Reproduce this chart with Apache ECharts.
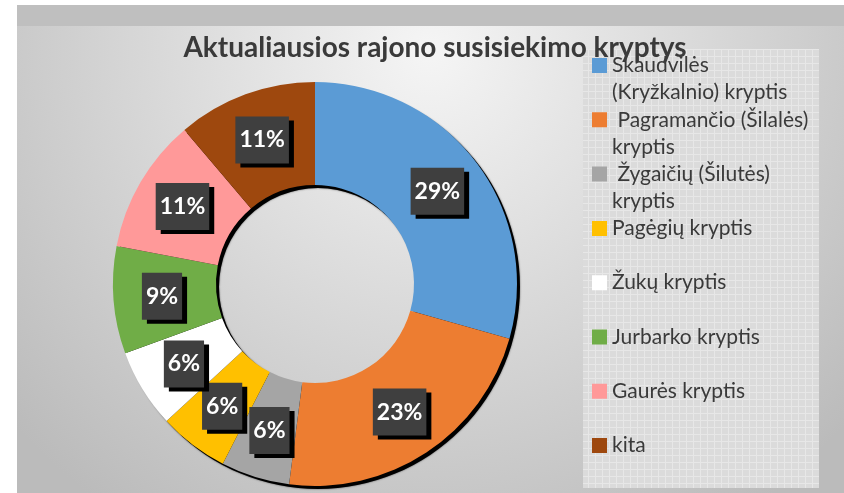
<!DOCTYPE html>
<html>
<head>
<meta charset="utf-8">
<script src="https://cdn.jsdelivr.net/npm/echarts@6/dist/echarts.min.js"></script>
<style>
  html, body { margin: 0; padding: 0; background: #fff; }
  #chart { width: 844px; height: 493px; }
</style>
</head>
<body>
<div id="chart"></div>
<script>
var dom = document.getElementById("chart");
var myChart = echarts.init(dom);

var titleText = 'Aktualiausios rajono susisiekimo kryptys';
var categories = ['Skaudvilės (Kryžkalnio) kryptis', ' Pagramančio (Šilalės) kryptis',
    ' Žygaičių (Šilutės) kryptis', 'Pagėgių kryptis', 'Žukų kryptis',
    'Jurbarko kryptis', 'Gaurės kryptis', 'kita'];
// legend text as it wraps in the picture
var legendText = ['Skaudvilės\n(Kryžkalnio) kryptis', ' Pagramančio (Šilalės)\nkryptis',
    ' Žygaičių (Šilutės)\nkryptis', 'Pagėgių kryptis\n ', 'Žukų kryptis\n ',
    'Jurbarko kryptis\n ', 'Gaurės kryptis\n ', 'kita\n '];
// shares (percent)
var shares = [29.4, 22.7, 5.5, 5.6, 6.3, 8.6, 10.8, 11.2];
var colors = ['#5b9bd5', '#ed7d31', '#a5a5a5', '#ffc000', '#ffffff', '#70ad47', '#ff9999', '#9e480e'];

// grid texture behind the legend
var tex = document.createElement('canvas');
tex.width = 7; tex.height = 7;
var ctx = tex.getContext('2d');
ctx.fillStyle = '#dbdbdb';
ctx.fillRect(0, 0, 7, 7);
ctx.fillStyle = '#e7e7e7';
ctx.fillRect(0, 0, 7, 1);
ctx.fillRect(0, 0, 1, 7);

var pieData = categories.map(function (name, i) {
    return { name: name, value: shares[i], itemStyle: { color: colors[i] } };
});

option = {
    animation: false,
    graphic: [
        { type: 'rect', shape: { x: 17, y: 5, width: 827, height: 488 }, style: { fill: '#bfbfbf' } },
        {
            type: 'rect', shape: { x: 17, y: 26, width: 827, height: 467 },
            style: {
                fill: {
                    type: 'radial', x: 430, y: 50, r: 560, global: true,
                    colorStops: [{ offset: 0, color: '#f5f5f5' }, { offset: 1, color: '#bbbbbb' }]
                }
            }
        },
        { type: 'rect', shape: { x: 583, y: 49, width: 236, height: 439 }, style: { fill: { image: tex, repeat: 'repeat' } } }
    ],
    title: {
        text: titleText,
        left: 435,
        top: 34,
        padding: 0,
        textAlign: 'center',
        textStyle: {
            fontFamily: 'Lato',
            fontWeight: 'bold',
            fontSize: 28,
            color: '#3a3a3a'
        }
    },
    legend: {
        orient: 'vertical',
        left: 592,
        top: 52,
        padding: 0,
        itemGap: 0.3,
        itemWidth: 15,
        itemHeight: 54,
        itemStyle: { borderWidth: 0 },
        data: categories,
        icon: 'path://M0,6h15v15h-15z M0,0h0.01 M0,54h0.01',
        formatter: function (name) {
            return legendText[categories.indexOf(name)];
        },
        textStyle: {
            fontFamily: 'Lato',
            fontSize: 21,
            lineHeight: 27,
            color: '#3a3a3a'
        }
    },
    series: [{
        name: 'shadow',
        type: 'pie',
        silent: true,
        z: 1,
        center: [318, 287],
        radius: [99, 202],
        label: { show: false },
        labelLine: { show: false },
        itemStyle: { color: '#000', shadowBlur: 2, shadowColor: 'rgba(0,0,0,0.6)' },
        data: [{ name: 'shadow', value: 1 }]
    }, {
        name: 'Kryptys',
        type: 'pie',
        z: 2,
        center: [315, 284],
        radius: [99, 202],
        startAngle: 90,
        clockwise: true,
        data: pieData,
        labelLine: { show: false },
        labelLayout: { hideOverlap: false },
        label: {
            show: true,
            position: 'inside',
            formatter: function (p) {
                return Math.round(p.percent) + '%';
            },
            fontFamily: 'Lato',
            fontWeight: 'bold',
            fontSize: 23,
            color: '#fff',
            backgroundColor: '#3f3f3f',
            padding: [12, 4],
            shadowColor: '#000',
            shadowOffsetX: 5,
            shadowOffsetY: 4,
            shadowBlur: 0
        },
        emphasis: { scale: false }
    }]
};

if (option && typeof option === "object") {
    myChart.setOption(option, true);
}
</script>
</body>
</html>
